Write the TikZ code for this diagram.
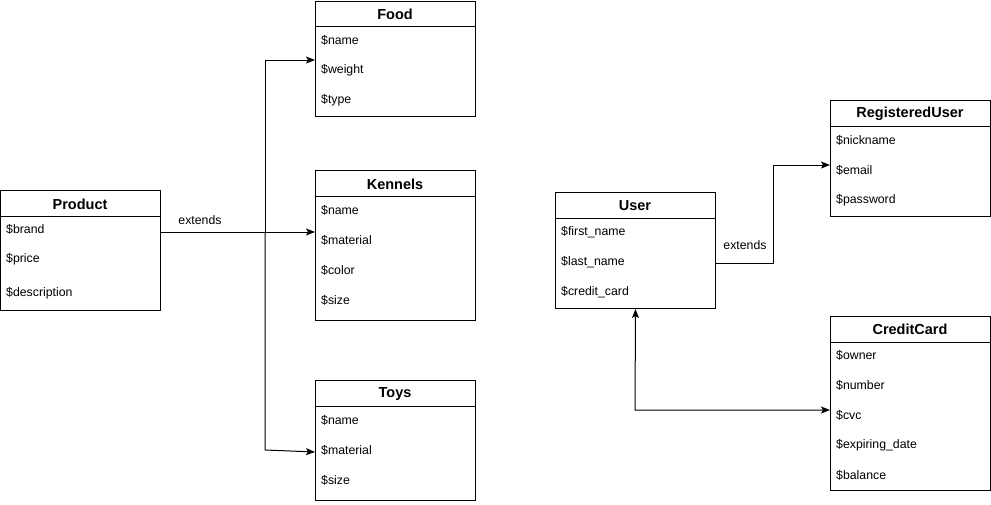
\documentclass[tikz,border=0pt]{standalone}
\usepackage{fontspec}
\setmainfont{Liberation Sans}
\usetikzlibrary{arrows.meta,positioning}
\begin{document}
\begin{tikzpicture}[x=1pt,y=-1pt,
  classbox/.style={draw=black,line width=1pt,fill=white,minimum width=160pt,anchor=north west,inner sep=0pt},
  title/.style={font=\fontsize{14.5}{16}\selectfont\bfseries,anchor=center,inner sep=0pt},
  field/.style={font=\fontsize{12.3}{14}\selectfont,anchor=west,inner sep=0pt},
  lbl/.style={font=\fontsize{12.3}{14}\selectfont,inner sep=0pt},
  conn/.style={line width=1pt,draw=black},
  tip/.style={-{Stealth[length=9pt,width=7pt,inset=2pt]}}
]
\useasboundingbox (0,0) rectangle (991,504);

% Food
\node[classbox,minimum height=115pt] (food) at (315,1) {};
\draw[line width=1pt] (315,26) -- (475,26);
\node[title] (foodt) at (395,14) {Food};
\node[field] (f1) at (321,40) {\$name};
\node[field] (f2) at (321,70) {\$weight};
\node[field] (f3) at (321,100) {\$type};

% Kennels
\node[classbox,minimum height=150pt] (ken) at (315,170) {};
\draw[line width=1pt] (315,196) -- (475,196);
\node[title] (kent) at (395,184) {Kennels};
\node[field] (k1) at (321,210) {\$name};
\node[field] (k2) at (321,240) {\$material};
\node[field] (k3) at (321,270) {\$color};
\node[field] (k4) at (321,300) {\$size};

% Toys
\node[classbox,minimum height=120pt] (toys) at (315,380) {};
\draw[line width=1pt] (315,406) -- (475,406);
\node[title] (toyst) at (395,394) {Toys};
\node[field] (t1) at (321,420) {\$name};
\node[field] (t2) at (321,450) {\$material};
\node[field] (t3) at (321,480) {\$size};

% Product
\node[classbox,minimum height=120pt] (prod) at (0,190) {};
\draw[line width=1pt] (0,216) -- (160,216);
\node[title] (prodt) at (80,204) {Product};
\node[field] (p1) at (6,229) {\$brand};
\node[field] (p2) at (6,259) {\$price};
\node[field] (p3) at (6,293) {\$description};

% User
\node[classbox,minimum height=116pt] (user) at (555,192) {};
\draw[line width=1pt] (555,218) -- (715,218);
\node[title] (usert) at (635,206) {User};
\node[field] (u1) at (561,232) {\$first\_name};
\node[field] (u2) at (561,262) {\$last\_name};
\node[field] (u3) at (561,292) {\$credit\_card};

% RegisteredUser
\node[classbox,minimum height=116pt] (reg) at (830,100) {};
\draw[line width=1pt] (830,126) -- (990,126);
\node[title] (regt) at (910,114) {RegisteredUser};
\node[field] (r1) at (836,140) {\$nickname};
\node[field] (r2) at (836,170) {\$email};
\node[field] (r3) at (836,200) {\$password};

% CreditCard
\node[classbox,minimum height=174pt] (cc) at (830,316) {};
\draw[line width=1pt] (830,342) -- (990,342);
\node[title] (cct) at (910,329) {CreditCard};
\node[field] (c1) at (836,355) {\$owner};
\node[field] (c2) at (836,385) {\$number};
\node[field] (c3) at (836,415) {\$cvc};
\node[field] (c4) at (836,445) {\$expiring\_date};
\node[field] (c5) at (836,475) {\$balance};

% connectors
\coordinate (pj) at (265,232);
\draw[conn,tip] (prod.east |- pj) -- (ken.west |- pj);
\node[lbl] (ext1) at (200,220) {extends};
\draw[conn,tip] (pj) -- (265,60) -- (food.west |- 0,60);
\draw[conn,tip] (pj) -- (265,450) -- (315,452);

\draw[conn,tip] (user.east |- 0,263) -- (773,263) -- (773,165) -- (reg.west |- 0,165);
\node[lbl] (ext2) at (745,245) {extends};

\draw[conn,{Stealth[length=9pt,width=7pt,inset=2pt]}-{Stealth[length=9pt,width=7pt,inset=2pt]}] (user.south) -- (635,410) -- (cc.west |- 0,410);
\end{tikzpicture}
\end{document}
